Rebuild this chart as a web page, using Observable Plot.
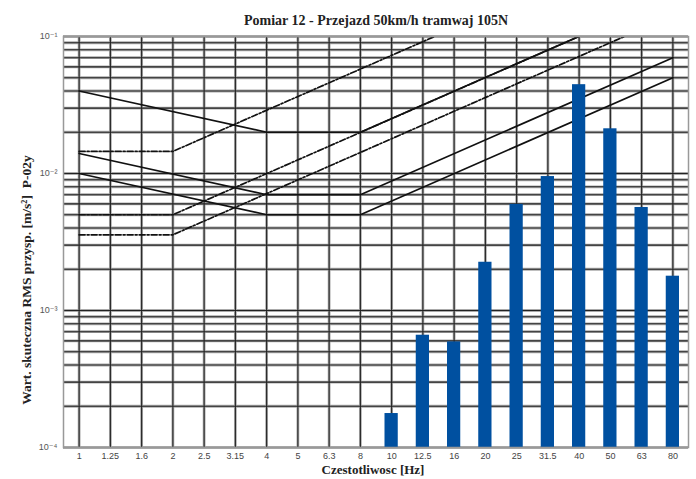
<!DOCTYPE html>
<html>
<head>
<meta charset="utf-8">
<script src="https://cdn.jsdelivr.net/npm/d3@7"></script>
<script src="https://cdn.jsdelivr.net/npm/@observablehq/plot@0.6"></script>
<style>
  html, body { margin: 0; padding: 0; background: #fff; }
</style>
</head>
<body>
<div id="chart"></div>
<script>
// ---- data ----
const titleText = "Pomiar 12 - Przejazd 50km/h tramwaj 105N";
const yLabelText = "Wart. skuteczna RMS przysp. [m/s²]  P-02y";
const xLabelText = "Czestotliwosc [Hz]";

const freqLabels = ["1","1.25","1.6","2","2.5","3.15","4","5","6.3","8","10","12.5","16","20","25","31.5","40","50","63","80"];

const barFreqs  = ["10","12.5","16","20","25","31.5","40","50","63","80"];
const barValues = [1.77e-4, 6.6e-4, 5.9e-4, 2.25e-3, 5.95e-3, 9.5e-3, 4.45e-2, 2.12e-2, 5.65e-3, 1.78e-3];

// solid limit curves (vertical-axis shape), values at break frequencies
const zCurveFreqs = ["1","4","8","80"];
const zCurve1  = [0.01, 0.005, 0.005, 0.05];
const zCurve14 = [0.014, 0.007, 0.007, 0.07];
const zCurve4  = [0.04, 0.02, 0.02, 0.2];

// dash-dot limit curves (horizontal-axis shape)
const xyCurveFreqs = ["1","2","80"];
const xyCurve1  = [0.00357, 0.00357, 0.143];
const xyCurve14 = [0.005, 0.005, 0.2];
const xyCurve4  = [0.0145, 0.0145, 0.58];

const yDomain = [1e-4, 1e-1];
const yTicks = [1e-4, 1e-3, 1e-2, 1e-1];
const yTickLabels = ["10⁻⁴", "10⁻³", "10⁻²", "10⁻¹"];
const yGrid = [
  1e-4, 2e-4, 3e-4, 4e-4, 5e-4, 6e-4, 7e-4, 8e-4, 9e-4,
  1e-3, 2e-3, 3e-3, 4e-3, 5e-3, 6e-3, 7e-3, 8e-3, 9e-3,
  1e-2, 2e-2, 3e-2, 4e-2, 5e-2, 6e-2, 7e-2, 8e-2, 9e-2, 1e-1
];

// ---- tables ----
const bars = barFreqs.map((f, i) => ({f, v: barValues[i]}));
const toRows = (freqs, vals, name) => freqs.map((f, i) => ({f, v: vals[i], name}));
const solidRows = [
  ...toRows(zCurveFreqs, zCurve1, "z1"),
  ...toRows(zCurveFreqs, zCurve14, "z14"),
  ...toRows(zCurveFreqs, zCurve4, "z4")
];
const dashRows = [
  ...toRows(xyCurveFreqs, xyCurve1, "xy1"),
  ...toRows(xyCurveFreqs, xyCurve14, "xy14"),
  ...toRows(xyCurveFreqs, xyCurve4, "xy4")
];

const serif = "'Liberation Serif', 'DejaVu Serif', serif";
const sans = "'Liberation Sans', 'DejaVu Sans', sans-serif";

const chart = Plot.plot({
  width: 696,
  height: 479,
  marginLeft: 63,
  marginRight: 8,
  marginTop: 36,
  marginBottom: 32,
  style: {fontFamily: sans, fontSize: "9px", color: "#444", background: "#fff"},
  x: {type: "band", domain: freqLabels, padding: 0, round: false, label: null},
  y: {type: "log", domain: yDomain, label: null},
  marks: [
    // grid
    Plot.gridY(yGrid, {stroke: "#aaa", strokeOpacity: 1, strokeWidth: 2.8}),
    Plot.gridX(freqLabels, {stroke: "#aaa", strokeOpacity: 1, strokeWidth: 2.8}),
    Plot.gridY(yGrid, {stroke: "#222", strokeOpacity: 1, strokeWidth: 1.1}),
    Plot.gridX(freqLabels, {stroke: "#222", strokeOpacity: 1, strokeWidth: 1.1}),
    // limit curves
    Plot.line(solidRows, {x: "f", y: "v", z: "name", stroke: "#111", strokeWidth: 1.7, clip: true}),
    Plot.line(dashRows, {x: "f", y: "v", z: "name", stroke: "#111", strokeWidth: 1.7,
      strokeDasharray: "6,2,2,2", clip: true}),
    // bars
    Plot.barY(bars, {x: "f", y1: () => yDomain[0], y2: "v", fill: "#0050a0", insetLeft: 9, insetRight: 9}),
    Plot.frame({stroke: "#999", strokeWidth: 1.5}),
    // axes
    Plot.axisX({tickSize: 0, tickPadding: 5, fontSize: 9, fill: "#444", label: null}),
    Plot.axisY({ticks: yTicks, tickFormat: (d, i) => yTickLabels[yTicks.indexOf(d)], tickSize: 0, tickPadding: 6,
      fontSize: 9, fill: "#555", label: null}),
    // titles
    Plot.text([titleText], {text: d => d, frameAnchor: "top", dy: -16, dx: 0, lineAnchor: "middle",
      fontFamily: serif, fontWeight: "bold", fontSize: 14, fill: "#222"}),
    Plot.text([xLabelText], {text: d => d, frameAnchor: "bottom", dy: 22, dx: -3, lineAnchor: "middle",
      fontFamily: serif, fontWeight: "bold", fontSize: 13, fill: "#222"}),
    Plot.text([yLabelText], {text: d => d, frameAnchor: "left", dx: -37, dy: 38, rotate: -90, lineAnchor: "middle",
      textAnchor: "middle", fontFamily: serif, fontWeight: "bold", fontSize: 13.5, fill: "#222"})
  ]
});
document.getElementById("chart").appendChild(chart);
</script>
</body>
</html>
